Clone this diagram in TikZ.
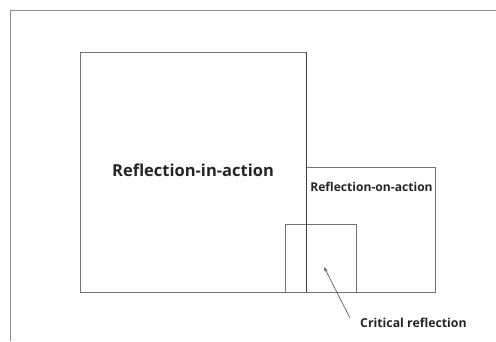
\documentclass[tikz,border=0pt]{standalone}
\usepackage{fontspec}
\setmainfont{Open Sans}
\usetikzlibrary{arrows.meta}
\begin{document}
\begin{tikzpicture}[x=1pt,y=-1pt,
  frame/.style={draw=black!45, line width=0.8pt},
  box/.style={draw=black!55, line width=0.8pt},
  lbl/.style={font=\bfseries, text=black!85, inner sep=0pt}]
\useasboundingbox (0,0) rectangle (496,341);
% page frame
\draw[frame] (10,341) -- (10,10) -- (496,10);
% boxes
\coordinate (inA) at (80,52);
\coordinate (inB) at (306,292);
\draw[box] (inA) rectangle (inB);
\coordinate (onA) at (306,167);
\coordinate (onB) at (435,292);
\draw[box] (onA) rectangle (onB);
\coordinate (crA) at (285,224);
\coordinate (crB) at (356,292);
\draw[box] (crA) rectangle (crB);
\draw[draw=black!75, line width=0.9pt] (306,52) -- (306,292);
% labels
\node[lbl, font=\bfseries\fontsize{16.5}{20}\selectfont] (in) at (193,170) {Reflection-in-action};
\node[lbl, font=\bfseries\fontsize{12.1}{15}\selectfont] (on) at (371.5,187) {Reflection-on-action};
\node[lbl, font=\bfseries\fontsize{12.3}{15}\selectfont, anchor=west] (cr) at (360,323) {Critical reflection};
\coordinate (tip) at (324,267);
\coordinate (tail) at (350,318);
\draw[draw=black!70, line width=0.6pt, -{Stealth[length=5pt,width=3pt]}] (tail) -- (tip);
\end{tikzpicture}
\end{document}
